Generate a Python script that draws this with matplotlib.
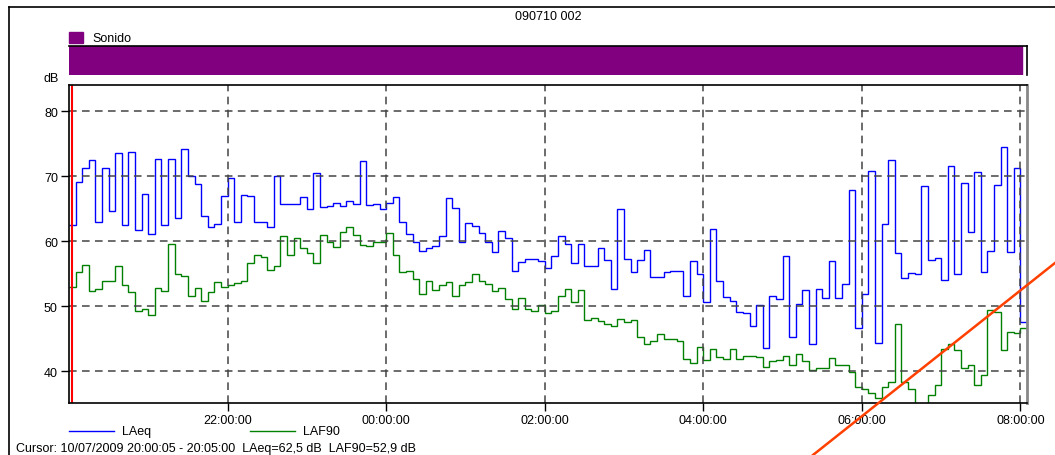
import matplotlib
matplotlib.use("Agg")
import matplotlib.pyplot as plt
import matplotlib.dates as mdates
from matplotlib.lines import Line2D
from matplotlib.patches import Rectangle
from datetime import datetime, timedelta

plt.rcParams['font.family'] = ['Liberation Sans', 'DejaVu Sans']

# niveles cada 5 minutos desde 20:00
inicio = datetime(2009, 7, 10, 20, 0)
paso = timedelta(minutes=5)

laeq = [62.5, 69.1, 71.3, 72.4, 62.9, 71.2, 64.7, 73.5, 62.4, 73.7,
        61.7, 67.2, 61.1, 72.6, 62.5, 72.6, 63.6, 74.1, 70.0, 68.8,
        63.8, 62.1, 62.7, 67.0, 69.7, 63.0, 67.1, 66.9, 63.0, 62.9,
        62.1, 70.0, 65.7, 65.7, 65.7, 66.8, 64.9, 70.5, 65.3, 65.4,
        65.9, 65.4, 66.1, 65.7, 72.3, 65.6, 65.7, 65.0, 65.8, 66.8,
        62.9, 61.1, 59.9, 58.5, 59.0, 59.3, 60.8, 66.7, 65.1, 59.9,
        62.8, 62.3, 61.3, 59.9, 58.3, 61.5, 60.5, 55.4, 56.8, 57.2,
        57.2, 56.9, 55.8, 57.7, 60.8, 59.5, 56.6, 59.6, 56.2, 56.2,
        59.0, 57.1, 52.7, 65.0, 57.2, 55.2, 57.1, 58.7, 54.4, 54.4,
        55.3, 55.4, 55.4, 51.5, 57.0, 54.9, 50.7, 61.8, 53.9, 51.4,
        50.8, 49.1, 48.9, 47.0, 50.1, 43.5, 51.5, 51.1, 57.7, 45.2,
        50.4, 52.5, 44.2, 52.7, 51.2, 57.0, 51.2, 53.4, 67.9, 46.6,
        51.8, 70.8, 44.3, 62.6, 72.5, 58.2, 54.3, 55.1, 54.9, 68.4,
        57.1, 57.4, 54.0, 71.5, 54.9, 69.0, 61.4, 70.6, 55.3, 58.4,
        68.6, 74.4, 58.3, 71.3, 47.5]

laf90 = [52.9, 55.3, 56.3, 52.3, 52.6, 53.8, 53.8, 56.1, 53.3, 52.2,
         49.3, 49.5, 48.7, 52.8, 52.3, 59.6, 54.9, 54.7, 51.5, 52.8,
         50.8, 52.1, 53.7, 53.0, 53.3, 53.5, 53.8, 56.6, 57.9, 57.5,
         55.6, 56.2, 60.8, 57.9, 60.5, 58.9, 58.1, 56.6, 60.9, 59.8,
         59.1, 61.4, 62.2, 61.0, 59.4, 59.2, 59.8, 59.9, 61.2, 57.8,
         55.3, 55.4, 54.2, 51.9, 53.9, 52.5, 53.2, 53.7, 51.6, 53.2,
         53.7, 55.0, 53.8, 53.4, 52.3, 52.8, 51.1, 49.5, 51.2, 49.6,
         49.3, 50.2, 48.9, 49.3, 51.5, 52.6, 50.6, 52.5, 47.8, 48.1,
         47.7, 47.3, 47.0, 48.0, 47.6, 47.9, 45.2, 44.2, 44.6, 45.7,
         45.0, 45.0, 44.6, 41.8, 41.3, 43.7, 41.7, 43.4, 42.2, 41.8,
         43.4, 41.9, 42.3, 42.4, 42.2, 40.6, 41.6, 41.7, 42.3, 40.9,
         42.7, 41.5, 40.1, 40.5, 40.5, 42.0, 41.0, 40.9, 39.8, 37.5,
         37.3, 36.7, 35.8, 37.5, 38.3, 47.3, 38.4, 37.2, 34.5, 34.5,
         36.3, 37.9, 43.4, 44.2, 43.2, 40.5, 40.9, 37.8, 39.4, 49.4,
         49.1, 43.3, 46.0, 45.8, 46.7]

bordes = [mdates.date2num(inicio + paso * i) for i in range(len(laeq) + 1)]
cursor_t = mdates.date2num(inicio + paso / 2)
sonido_fin = mdates.date2num(datetime(2009, 7, 11, 8, 1))

W, H = 1055, 456
def fx(px):
    return px / W
def fy(py):
    return 1 - py / H

FS = 9

fig = plt.figure(figsize=(W / 100, H / 100), dpi=100)

# marco exterior
fig.add_artist(Line2D([fx(9), fx(9)], [fy(8), 0], color='black', lw=1.2))
fig.add_artist(Line2D([fx(9), 1], [fy(8), fy(8)], color='black', lw=1.2))

fig.text(fx(548), fy(17), '090710 002', ha='center', va='center', fontsize=FS)

# barra de fuente "Sonido"
fig.add_artist(Rectangle((fx(69), fy(44)), fx(83) - fx(69), fy(33) - fy(44),
                         transform=fig.transFigure, color='purple'))
fig.text(fx(92), fy(39), 'Sonido', ha='left', va='center', fontsize=FS)

axb = fig.add_axes([fx(69), fy(76), fx(1027) - fx(69), fy(47) - fy(76)])
axb.axvspan(bordes[0], sonido_fin, color='purple')
axb.set_xlim(bordes[0], bordes[-1])
axb.set_xticks([])
axb.set_yticks([])
for s in ['left', 'bottom']:
    axb.spines[s].set_visible(False)
axb.spines['top'].set_linewidth(1.2)
axb.spines['right'].set_linewidth(1.2)

# grafico principal
ax = fig.add_axes([fx(69), fy(404), fx(1027) - fx(69), fy(86) - fy(404)])
ax.stairs(laeq, bordes, baseline=None, color='#0000ff', lw=1.0, label='LAeq')
ax.stairs(laf90, bordes, baseline=None, color='#008000', lw=1.0, label='LAF90')
ax.axvline(cursor_t, color='red', lw=1.5)

ax.set_xlim(bordes[0], bordes[-1])
ax.set_ylim(35.1, 84)
ax.set_yticks([40, 50, 60, 70, 80])
ax.xaxis.set_major_locator(mdates.HourLocator(byhour=[22, 0, 2, 4, 6, 8]))
ax.xaxis.set_major_formatter(mdates.DateFormatter('%H:%M:%S'))
ax.tick_params(axis='both', labelsize=FS, length=6, width=1, colors='black', pad=2)
ax.grid(True, color='#444444', lw=1.1, linestyle=(0, (5, 3.5)))
for s in ['left', 'bottom', 'top']:
    ax.spines[s].set_linewidth(1.2)
ax.spines['right'].set_color('#888888')
ax.spines['right'].set_linewidth(2)

fig.text(fx(51), fy(79), 'dB', ha='center', va='center', fontsize=FS)

# leyenda
fig.add_artist(Line2D([fx(69), fx(114)], [fy(432), fy(432)], color='#0000ff', lw=1))
fig.text(fx(122), fy(432), 'LAeq', ha='left', va='center', fontsize=FS)
fig.add_artist(Line2D([fx(250), fx(295)], [fy(432), fy(432)], color='#008000', lw=1))
fig.text(fx(303), fy(432), 'LAF90', ha='left', va='center', fontsize=FS)

fig.text(fx(16), fy(449), 'Cursor: 10/07/2009 20:00:05 - 20:05:00  LAeq=62,5 dB  LAF90=52,9 dB',
         ha='left', va='center', fontsize=FS)

# trazo naranja encima
fig.add_artist(Line2D([fx(813), fx(1060)], [fy(456), fy(260)], color='#ff4000', lw=1.8))

fig.savefig('out.png', dpi=100)
